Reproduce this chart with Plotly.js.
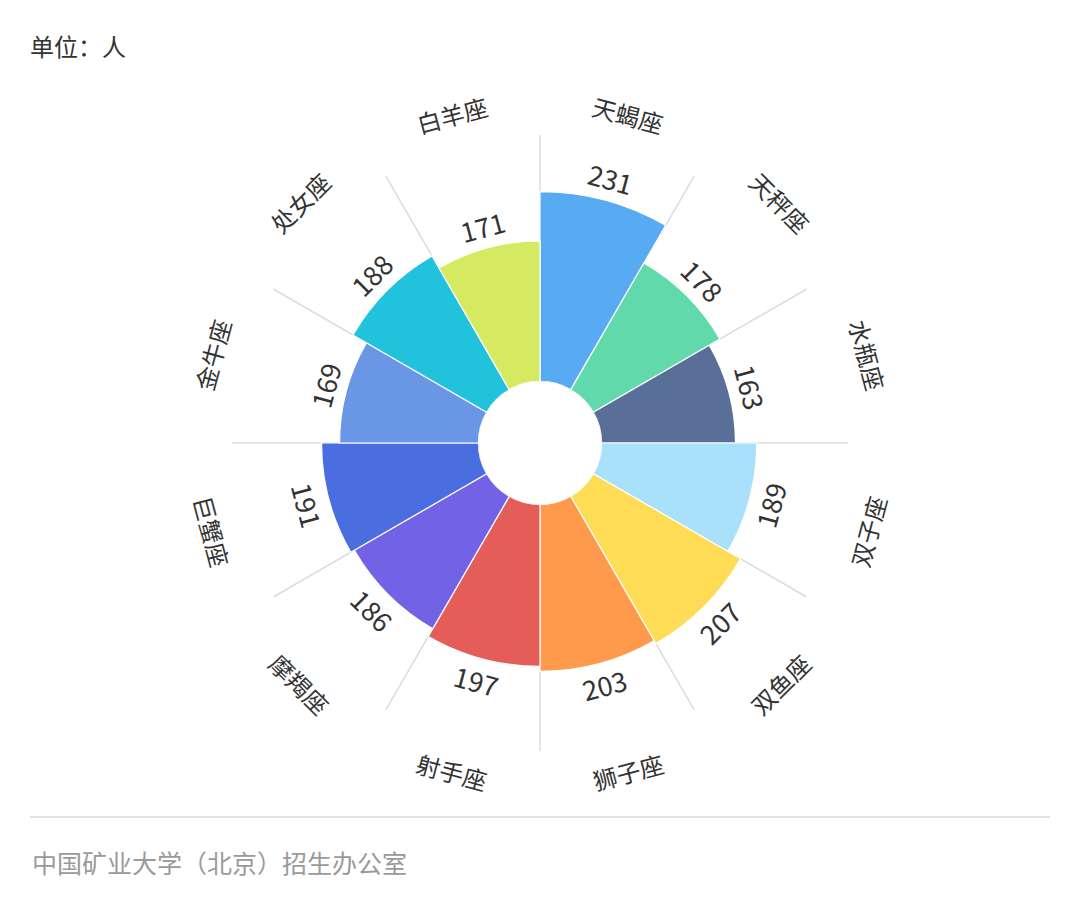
<!DOCTYPE html>
<html>
<head>
<meta charset="utf-8">
<script src="https://cdn.plot.ly/plotly-3.0.1.min.js"></script>
<style>
  html, body { margin: 0; padding: 0; background: #fff; }
  #chart { width: 1080px; height: 918px; }
</style>
</head>
<body>
<div id="chart"></div>
<script>
// Data, clockwise from the top
const signs = ["天蝎座", "天秤座", "水瓶座", "双子座", "双鱼座", "狮子座",
               "射手座", "摩羯座", "巨蟹座", "金牛座", "处女座", "白羊座"];
const counts = [231, 178, 163, 189, 207, 203, 197, 186, 191, 169, 188, 171];
const colors = ["#58AAF2", "#62D9AB", "#5A6F97", "#A9E1FA", "#FFDC55", "#FF9A4D",
                "#E45D58", "#7262E5", "#4A6EDF", "#6A96E6", "#21C2DB", "#D5EA61"];

const RMAX = 300;     // radial range
const HOLE = 0.2;
const R_PX = 308;     // outer radius of polar area in px
const step = 360 / signs.length;
const thetas = signs.map((_, i) => step / 2 + i * step);

const font = "Noto Sans CJK SC, Noto Sans, sans-serif";

// text upright along the tangent
function tangentAngle(a) {
  if (a <= 90) return a;
  if (a < 270) return a - 180;
  return a - 360;
}

// polar -> paper coords (polar domain fills the square plot area)
function toPaper(rho, a) {
  const rad = a * Math.PI / 180;
  return { x: 0.5 + rho * Math.sin(rad) / 2, y: 0.5 + rho * Math.cos(rad) / 2 };
}

const annotations = [];
signs.forEach((s, i) => {
  const a = thetas[i];
  const rBar = HOLE + (1 - HOLE) * counts[i] / RMAX;
  const pv = toPaper(rBar + 22 / R_PX, a);
  annotations.push({
    x: pv.x, y: pv.y, xref: "paper", yref: "paper", showarrow: false,
    text: String(counts[i]), textangle: tangentAngle(a),
    xanchor: "center", yanchor: "middle",
    font: { family: font, size: 27, color: "#333" }
  });
  const pc = toPaper(1 + 32 / R_PX, a);
  annotations.push({
    x: pc.x, y: pc.y, xref: "paper", yref: "paper", showarrow: false,
    text: s, textangle: tangentAngle(a),
    xanchor: "center", yanchor: "middle",
    font: { family: font, size: 24, color: "#333" }
  });
});

// footer
annotations.push({
  x: (30 - 232) / 616, y: (751 - 862) / 616, xref: "paper", yref: "paper",
  xanchor: "left", yanchor: "middle", showarrow: false,
  text: "中国矿业大学（北京）招生办公室",
  font: { family: font, size: 25, color: "#9a9a9a" }
});

const traces = [{
  type: "barpolar",
  r: counts,
  theta: thetas,
  width: thetas.map(() => step),
  marker: { color: colors, line: { color: "#ffffff", width: 1.2 } },
  hoverinfo: "skip"
}];

const layout = {
  width: 1080, height: 918,
  margin: { l: 232, r: 232, t: 135, b: 167 },
  paper_bgcolor: "#fff",
  showlegend: false,
  title: {
    text: "单位：人", xref: "container", yref: "container",
    x: 30 / 1080, xanchor: "left", y: 1 - 48 / 918, yanchor: "middle",
    font: { family: font, size: 24, color: "#333" }
  },
  polar: {
    domain: { x: [0, 1], y: [0, 1] },
    hole: HOLE,
    bgcolor: "rgba(0,0,0,0)",
    radialaxis: { range: [0, RMAX], visible: false, showgrid: false },
    angularaxis: {
      type: "linear", thetaunit: "degrees", rotation: 90, direction: "clockwise",
      tickmode: "linear", tick0: 0, dtick: step,
      showgrid: true, gridcolor: "#dcdcdc", gridwidth: 1.5,
      showline: false, showticklabels: false, ticks: ""
    }
  },
  shapes: [{
    type: "line", xref: "paper", yref: "paper",
    x0: (30 - 232) / 616, x1: (1050 - 232) / 616,
    y0: (751 - 817) / 616, y1: (751 - 817) / 616,
    line: { color: "#e3e3e3", width: 2 }
  }],
  annotations: annotations
};

Plotly.newPlot("chart", traces, layout, { displayModeBar: false, staticPlot: true });
</script>
</body>
</html>
